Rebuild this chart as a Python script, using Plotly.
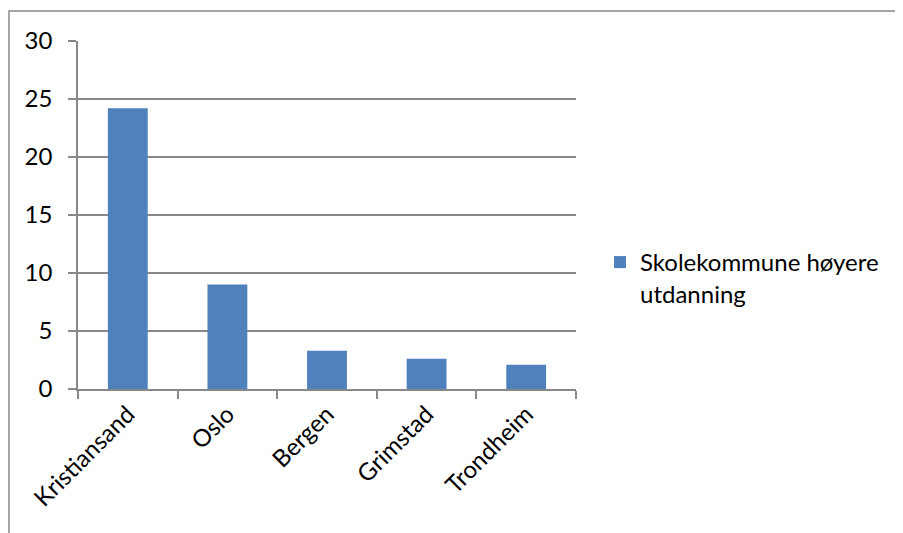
import plotly.graph_objects as go

categories = ["Kristiansand", "Oslo", "Bergen", "Grimstad", "Trondheim"]
values = [24.2, 9.0, 3.3, 2.6, 2.1]
series_name = "Skolekommune høyere<br>utdanning"
y_ticks = [0, 5, 10, 15, 20, 25, 30]

# the page body has an 8px margin; work in page pixels and shift
OFF = 8
W, H = 903 - OFF, 533 - OFF
PL, PR, PT, PB = 78, 576, 41, 389          # plot area in page pixels
L, T = PL - OFF, PT - OFF
R = W - (PR - OFF)
B = H - (PB - OFF)
pw, ph = PR - PL, PB - PT

def px_x(p):
    return (p - PL) / pw

def px_y(p):
    return (PB - p) / ph

gray = "#888888"
font = "Lato, Open Sans, sans-serif"
fs = 24

fig = go.Figure()
fig.add_trace(go.Bar(x=categories, y=values, name=series_name,
                     marker=dict(color="#4F81BD", line=dict(width=0)),
                     showlegend=True))

fig.update_layout(
    width=W, height=H,
    margin=dict(l=L, r=R, t=T, b=B),
    paper_bgcolor="white", plot_bgcolor="white",
    bargap=0.6,
    font=dict(family=font, size=fs, color="#000000"),
    showlegend=True,
    legend=dict(x=px_x(600), y=px_y(240), xanchor="left", yanchor="top",
                valign="top", font=dict(size=fs, family=font),
                bgcolor="rgba(0,0,0,0)"),
    xaxis=dict(type="category", tickson="boundaries", ticks="outside",
               ticklen=8, tickcolor=gray, tickwidth=1.5,
               showline=True, linecolor=gray, linewidth=1.5,
               showgrid=False, tickangle=-45,
               tickfont=dict(size=fs, family=font)),
    yaxis=dict(range=[0, 30], tickvals=y_ticks, ticks="outside",
               ticklen=8, tickcolor=gray, tickwidth=1.5,
               showline=True, linecolor=gray, linewidth=1.5,
               showgrid=True, gridcolor=gray, gridwidth=1.5,
               zeroline=False, ticklabelstandoff=11,
               tickfont=dict(size=fs, family=font)),
    shapes=[dict(type="rect", xref="paper", yref="paper",
                 x0=px_x(9), x1=px_x(915), y0=px_y(545), y1=px_y(11),
                 line=dict(color=gray, width=1.5), fillcolor="rgba(0,0,0,0)",
                 layer="below")],
)

fig.write_html("out.html")
